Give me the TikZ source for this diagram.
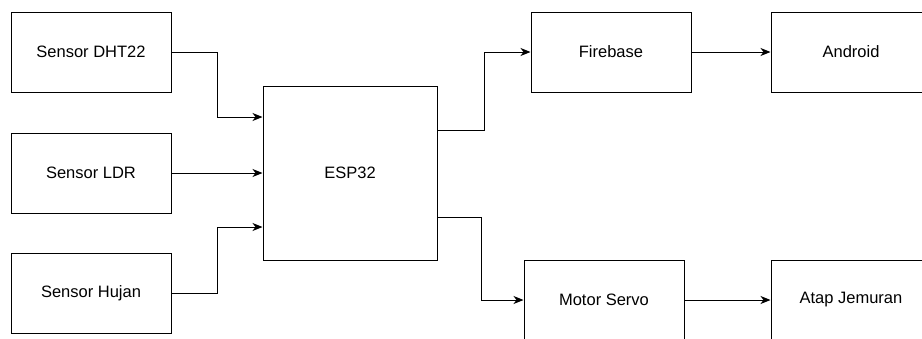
\documentclass[tikz,border=0pt]{standalone}
\usepackage{fontspec}
\setmainfont{Liberation Sans}
\usetikzlibrary{arrows.meta,positioning}
\tikzset{
  >={Stealth[length=10pt,width=8pt,inset=3pt]},
  blok/.style={draw=black,line width=1pt,minimum width=160pt,minimum height=80pt,inner sep=0pt,font=\fontsize{16.5}{20}\selectfont,fill=white},
  arr/.style={->,draw=black,line width=1pt},
}
\begin{document}
\begin{tikzpicture}[x=1pt,y=-1pt]
\clip (0,0) rectangle (922,338);
\fill[white] (0,0) rectangle (922,338);
% input
\node[blok] (dht) at (91,52) {Sensor DHT22};
\node[blok] (ldr) at (91,173) {Sensor LDR};
\node[blok] (hujan) at (91,293) {Sensor Hujan};
% controller
\node[blok,minimum width=174pt,minimum height=174pt] (esp) at (350,173) {ESP32};
% output
\node[blok] (firebase) at (611,52) {Firebase};
\node[blok] (android) at (851,52) {Android};
\node[blok] (servo) at (604,300) {Motor Servo};
\node[blok] (atap) at (851,300) {Atap Jemuran};
% connectors
\draw[arr] (dht.east) -- ++(46,0) |- ([yshift=56pt]esp.west);
\draw[arr] (ldr.east) -- (esp.west);
\draw[arr] (hujan.east) -- ++(46,0) |- ([yshift=-54pt]esp.west);
\draw[arr] ([yshift=43pt]esp.east) -- ++(47,0) |- (firebase.west);
\draw[arr] ([yshift=-44pt]esp.east) -- ++(44,0) |- (servo.west);
\draw[arr] (firebase.east) -- (android.west);
\draw[arr] (servo.east) -- (atap.west);
\end{tikzpicture}
\end{document}
